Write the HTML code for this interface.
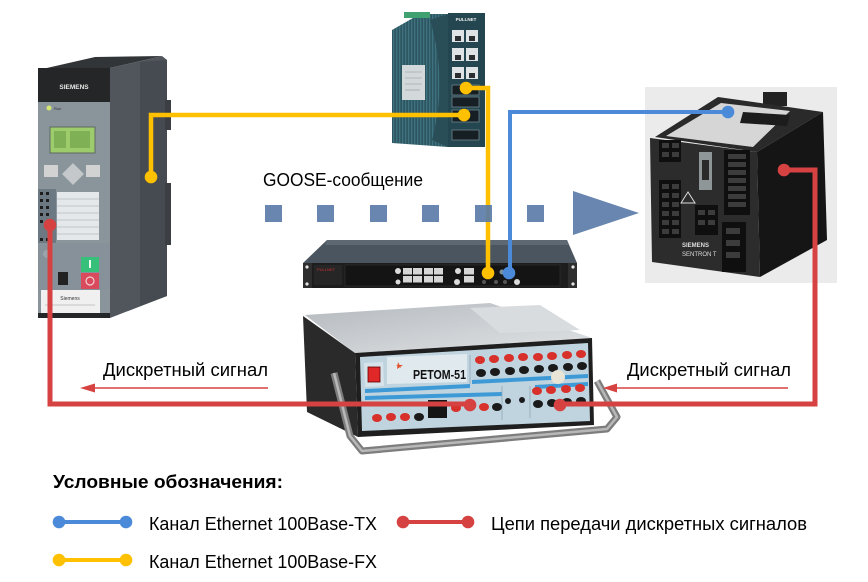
<!DOCTYPE html>
<html><head><meta charset="utf-8"><style>
html,body{margin:0;padding:0;background:#fff;}
svg{display:block;}
text{font-family:"Liberation Sans","DejaVu Sans",sans-serif;}
</style></head><body>
<svg width="868" height="582" viewBox="0 0 868 582" xmlns="http://www.w3.org/2000/svg">
<defs>
<linearGradient id="rtop" x1="0" y1="0" x2="1" y2="1">
<stop offset="0" stop-color="#b4b9be"/><stop offset="0.6" stop-color="#cfd3d6"/><stop offset="1" stop-color="#dfe2e4"/>
</linearGradient>
<linearGradient id="sw" x1="0" y1="0" x2="1" y2="0">
<stop offset="0" stop-color="#2c525c"/><stop offset="0.7" stop-color="#356470"/><stop offset="1" stop-color="#24454d"/>
</linearGradient>
<pattern id="ribs" width="3" height="10" patternUnits="userSpaceOnUse">
<rect width="3" height="10" fill="url(#sw)"/><rect width="1" height="10" fill="#3e7280"/>
</pattern>
</defs>
<rect width="868" height="582" fill="#fff"/>

<!-- ===== Left device (SIPROTEC) ===== -->
<polygon points="38,70 95,57 162,56 110,68" fill="#323538"/>
<polygon points="110,68 162,56 167,60 167,296 110,318" fill="#50565c"/>
<polygon points="140,62 167,60 167,296 140,306" fill="#464b51"/>
<rect x="165" y="100" width="6" height="30" fill="#3b3f44"/>
<rect x="165" y="183" width="6" height="62" fill="#3b3f44"/>
<rect x="38" y="68" width="72" height="250" fill="#8a949b"/>
<rect x="38" y="68" width="72" height="34" fill="#252627"/>
<text x="74" y="89" font-size="6.5" font-weight="bold" fill="#e8e8e8" text-anchor="middle">SIEMENS</text>
<circle cx="49" cy="108" r="2.5" fill="#d4e870"/>
<text x="54" y="110" font-size="4" fill="#333">Run</text>
<rect x="50" y="127" width="45" height="26" fill="#9ccc6c" stroke="#5d6a60" stroke-width="1"/>
<rect x="54" y="131" width="12" height="17" fill="#7fb055"/>
<rect x="70" y="131" width="20" height="17" fill="#7fb055"/>
<rect x="44" y="165" width="14" height="12" fill="#d2d2d2"/>
<polygon points="73,163 84,174 73,185 62,174" fill="#c4c8ca" stroke="#9aa" stroke-width="0.5"/>
<rect x="86" y="165" width="14" height="12" fill="#d2d2d2"/>
<rect x="38" y="189" width="18" height="54" fill="#6d7982"/>
<g fill="#1d1d1d">
<rect x="40" y="192" width="3" height="3"/><rect x="46" y="192" width="3" height="3"/>
<rect x="40" y="199" width="3" height="3"/><rect x="46" y="199" width="3" height="3"/>
<rect x="40" y="206" width="3" height="3"/><rect x="46" y="206" width="3" height="3"/>
<rect x="40" y="213" width="3" height="3"/><rect x="46" y="213" width="3" height="3"/>
<rect x="40" y="220" width="3" height="3"/><rect x="46" y="220" width="3" height="3"/>
<rect x="40" y="238" width="3" height="3"/><rect x="46" y="238" width="3" height="3"/>
</g>
<rect x="57" y="192" width="42" height="48" fill="#e4e8eb"/>
<g stroke="#9aa3a9" stroke-width="0.6">
<line x1="57" y1="199" x2="99" y2="199"/><line x1="57" y1="206" x2="99" y2="206"/>
<line x1="57" y1="213" x2="99" y2="213"/><line x1="57" y1="220" x2="99" y2="220"/>
<line x1="57" y1="227" x2="99" y2="227"/><line x1="57" y1="234" x2="99" y2="234"/>
</g>
<rect x="38" y="243" width="72" height="47" fill="#87919a"/>
<circle cx="47" cy="254" r="4" fill="#9aa4ab"/>
<rect x="81" y="257" width="18" height="15" fill="#36c07a"/>
<rect x="89" y="260" width="2" height="8" fill="#e8fff0"/>
<rect x="81" y="273" width="18" height="16" fill="#d94a5c"/>
<circle cx="90" cy="281" r="4" fill="none" stroke="#f3d0d6" stroke-width="1.2"/>
<rect x="58" y="272" width="10" height="13" fill="#222"/>
<rect x="41" y="290" width="59" height="23" fill="#f0f0f0"/>
<text x="70" y="300" font-size="5" fill="#333" text-anchor="middle">Siemens</text>
<line x1="45" y1="305" x2="95" y2="305" stroke="#999" stroke-width="0.6"/>
<rect x="38" y="313" width="72" height="5" fill="#252627"/>

<!-- ===== Top switch ===== -->
<polygon points="392,30 420,14 448,14 448,147 392,143" fill="url(#ribs)"/>
<path d="M430,20 Q448,80 432,140 L448,147 L448,14 Z" fill="#2a4e57"/>
<rect x="404" y="12" width="26" height="6" fill="#3fa070"/>
<rect x="402" y="65" width="23" height="35" fill="#d3d9da"/>
<g stroke="#8a9597" stroke-width="0.6">
<line x1="405" y1="72" x2="422" y2="72"/><line x1="405" y1="78" x2="422" y2="78"/>
<line x1="405" y1="84" x2="422" y2="84"/><line x1="405" y1="90" x2="420" y2="90"/>
</g>
<rect x="448" y="13" width="37" height="134" fill="#244650"/>
<text x="466" y="21" font-size="4.5" font-weight="bold" fill="#f2f2f2" text-anchor="middle">PULLNET</text>
<g fill="#dfe3e5">
<rect x="452" y="30" width="12" height="12"/><rect x="466" y="30" width="12" height="12"/>
<rect x="452" y="48" width="12" height="13"/><rect x="466" y="48" width="12" height="13"/>
<rect x="452" y="67" width="12" height="12"/><rect x="466" y="67" width="12" height="12"/>
</g>
<g fill="#2b2f31">
<rect x="455" y="36" width="6" height="5"/><rect x="469" y="36" width="6" height="5"/>
<rect x="455" y="55" width="6" height="5"/><rect x="469" y="55" width="6" height="5"/>
<rect x="455" y="73" width="6" height="5"/><rect x="469" y="73" width="6" height="5"/>
</g>
<g fill="#162024" stroke="#6e8288" stroke-width="0.8">
<rect x="452" y="85" width="27" height="10"/>
<rect x="452" y="97" width="27" height="10"/>
<rect x="452" y="110" width="27" height="12"/>
<rect x="452" y="130" width="27" height="10"/>
</g>

<!-- ===== Right device (SENTRON T) ===== -->
<rect x="645" y="87" width="192" height="196" fill="#ebebeb"/>
<rect x="763" y="92" width="24" height="14" fill="#222"/>
<polygon points="655,137 718,97 823,112 757,152" fill="#2a2a2a"/>
<polygon points="666,136 721,103 790,111 753,147" fill="#d6d6d6"/>
<polygon points="743,112 790,115 787,126 740,123" fill="#1c1c1c"/>
<polygon points="757,152 823,112 827,240 760,277" fill="#151515"/>
<polygon points="650,138 757,152 760,277 652,262" fill="#2c2c2c"/>
<g fill="#0f0f0f">
<rect x="659" y="140" width="22" height="22"/>
<rect x="659" y="180" width="22" height="58"/>
<rect x="724" y="150" width="26" height="65"/>
<rect x="722" y="222" width="24" height="50"/>
<rect x="695" y="205" width="23" height="30"/>
</g>
<g fill="#3c3c3c">
<rect x="662" y="143" width="7" height="5"/><rect x="672" y="143" width="7" height="5"/>
<rect x="662" y="152" width="7" height="5"/><rect x="672" y="152" width="7" height="5"/>
<rect x="662" y="184" width="7" height="5"/><rect x="672" y="184" width="7" height="5"/>
<rect x="662" y="193" width="7" height="5"/><rect x="672" y="193" width="7" height="5"/>
<rect x="662" y="202" width="7" height="5"/><rect x="672" y="202" width="7" height="5"/>
<rect x="662" y="211" width="7" height="5"/><rect x="672" y="211" width="7" height="5"/>
<rect x="662" y="220" width="7" height="5"/><rect x="672" y="220" width="7" height="5"/>
<rect x="662" y="229" width="7" height="5"/><rect x="672" y="229" width="7" height="5"/>
<rect x="728" y="154" width="18" height="5"/><rect x="728" y="162" width="18" height="5"/>
<rect x="728" y="170" width="18" height="5"/><rect x="728" y="178" width="18" height="5"/>
<rect x="728" y="186" width="18" height="5"/><rect x="728" y="194" width="18" height="5"/>
<rect x="728" y="202" width="18" height="5"/>
<rect x="726" y="228" width="14" height="6"/><rect x="726" y="240" width="14" height="6"/>
<rect x="726" y="252" width="14" height="6"/>
<rect x="698" y="210" width="7" height="5"/><rect x="708" y="210" width="7" height="5"/>
<rect x="698" y="220" width="7" height="5"/><rect x="708" y="220" width="7" height="5"/>
</g>
<rect x="699" y="152" width="13" height="38" fill="#8f9698"/>
<rect x="702" y="160" width="7" height="20" fill="#2a2a2a"/>
<polygon points="688,192 695,203 681,203" fill="none" stroke="#ddd" stroke-width="1"/>
<text x="682" y="247" font-size="6" font-weight="bold" fill="#ddd">SIEMENS</text>
<text x="682" y="256" font-size="6" fill="#ddd">SENTRON T</text>

<!-- ===== Rack switch ===== -->
<polygon points="327,240 567,240 577,263 303,263" fill="#4a5560"/>
<polygon points="327,240 567,240 569,245 325,245" fill="#5d6873"/>
<rect x="303" y="263" width="274" height="25" fill="#1d1d1d"/>
<rect x="303" y="263" width="9" height="25" fill="#2e2e2e"/>
<rect x="568" y="263" width="9" height="25" fill="#2e2e2e"/>
<g fill="#e6e6e6">
<circle cx="307" cy="267" r="1.6"/><circle cx="307" cy="284" r="1.6"/>
<circle cx="573" cy="267" r="1.6"/><circle cx="573" cy="284" r="1.6"/>
</g>
<rect x="314" y="265" width="28" height="20" fill="#262626"/>
<text x="317" y="271" font-size="4" fill="#c33">PULLNET</text>
<rect x="345" y="265" width="215" height="21" fill="#141414" stroke="#333" stroke-width="0.6"/>
<g fill="#d6d6d6">
<rect x="403" y="268" width="9" height="6.5"/><rect x="413" y="268" width="9" height="6.5"/>
<rect x="424" y="268" width="9" height="6.5"/><rect x="434" y="268" width="9" height="6.5"/>
<rect x="403" y="276" width="9" height="6.5"/><rect x="413" y="276" width="9" height="6.5"/>
<rect x="424" y="276" width="9" height="6.5"/><rect x="434" y="276" width="9" height="6.5"/>
<rect x="464" y="268" width="10" height="6.5"/><rect x="464" y="276" width="10" height="6.5"/>
</g>
<g fill="#dcdcdc">
<circle cx="398" cy="271" r="3"/><circle cx="398" cy="282" r="2.5"/>
<circle cx="458" cy="271" r="3"/><circle cx="457" cy="282" r="3"/>
<circle cx="517" cy="282" r="3"/>
</g>
<circle cx="502" cy="272" r="2.5" fill="#7a8f9c"/>
<g fill="#555"><circle cx="484" cy="282" r="2"/><circle cx="496" cy="282" r="2"/><circle cx="505" cy="282" r="2"/></g>

<!-- ===== RETOM-51 ===== -->
<polygon points="305,315 490,303 592,338 355,353" fill="url(#rtop)"/>
<polygon points="470,308 540,305 580,330 500,333" fill="#d9dcdf"/>
<polygon points="303,316 355,353 358,437 307,412" fill="#2a2a2a"/>
<polygon points="355,353 592,338 594,425 358,437" fill="#1f1f1f"/>
<polygon points="360,357 588,343 590,421 362,431" fill="#bfd4df"/>
<polygon points="364,363 383,362 384,386 365,387" fill="#d6e3ea"/>
<rect x="368" y="367" width="12" height="15" fill="#e02828" stroke="#600" stroke-width="0.8"/>
<polygon points="387,357 467,354 467,382 387,384" fill="#dfe9ee"/>
<polygon points="398,362 401,368 396,365 403,365 397,369" fill="#e0502a"/>
<text x="413" y="379" font-size="13" font-weight="bold" fill="#111" textLength="53" lengthAdjust="spacingAndGlyphs">РЕТОМ-51</text>
<polygon points="365,389 470,384 470,388 365,393" fill="#3e9ad6"/>
<polygon points="365,396 502,392 502,396 365,400" fill="#3e9ad6"/>
<polygon points="472,380 588,374 588,378 472,384" fill="#3e9ad6"/>
<polygon points="535,385 588,382 588,386 535,389" fill="#3e9ad6"/>
<line x1="470" y1="355" x2="470" y2="384" stroke="#8fa9b6" stroke-width="0.8"/>
<line x1="502" y1="386" x2="502" y2="420" stroke="#8fa9b6" stroke-width="0.8"/>
<line x1="530" y1="386" x2="530" y2="418" stroke="#8fa9b6" stroke-width="0.8"/>
<g fill="#d8302a">
<ellipse cx="480" cy="360" rx="5" ry="4"/><ellipse cx="494" cy="359" rx="5" ry="4"/>
<ellipse cx="509" cy="358" rx="5" ry="4"/><ellipse cx="523" cy="357" rx="5" ry="4"/>
<ellipse cx="538" cy="357" rx="5" ry="4"/><ellipse cx="552" cy="356" rx="5" ry="4"/>
<ellipse cx="567" cy="355" rx="5" ry="4"/><ellipse cx="581" cy="354" rx="5" ry="4"/>
<ellipse cx="537" cy="391" rx="5" ry="4"/><ellipse cx="551" cy="390" rx="5" ry="4"/>
<ellipse cx="566" cy="389" rx="5" ry="4"/><ellipse cx="580" cy="388" rx="5" ry="4"/>
<ellipse cx="377" cy="418" rx="5" ry="4"/><ellipse cx="391" cy="417" rx="5" ry="4"/>
<ellipse cx="405" cy="417" rx="5" ry="4"/>
<ellipse cx="456" cy="408" rx="5" ry="4"/><ellipse cx="484" cy="407" rx="5" ry="4"/>
</g>
<g fill="#1a1a1a">
<ellipse cx="481" cy="373" rx="5" ry="4"/><ellipse cx="495" cy="372" rx="5" ry="4"/>
<ellipse cx="510" cy="371" rx="5" ry="4"/><ellipse cx="524" cy="370" rx="5" ry="4"/>
<ellipse cx="539" cy="369" rx="5" ry="4"/><ellipse cx="553" cy="368" rx="5" ry="4"/>
<ellipse cx="568" cy="367" rx="5" ry="4"/><ellipse cx="582" cy="366" rx="5" ry="4"/>
<ellipse cx="538" cy="404" rx="5" ry="4"/><ellipse cx="552" cy="403" rx="5" ry="4"/>
<ellipse cx="567" cy="402" rx="5" ry="4"/><ellipse cx="581" cy="401" rx="5" ry="4"/>
<ellipse cx="419" cy="417" rx="5" ry="4"/><ellipse cx="497" cy="407" rx="5" ry="4"/>
<circle cx="508" cy="401" r="3"/><circle cx="522" cy="400" r="3"/>
</g>
<rect x="428" y="400" width="19" height="18" fill="#151515"/>
<circle cx="558" cy="377" r="7" fill="#e8e4d6"/>
<polyline points="334,373 350,436 362,451 607,429 617,417 597,381" fill="none" stroke="#7d7d7d" stroke-width="7" stroke-linejoin="round"/>
<polyline points="334,373 350,436 362,451 607,429 617,417 597,381" fill="none" stroke="#b8b8b8" stroke-width="2.5" stroke-linejoin="round"/>

<!-- ===== Connection lines ===== -->
<g fill="none" stroke-linejoin="miter">
<path d="M151,177 V115 H464" stroke="#FFC000" stroke-width="4.5"/>
<path d="M466,88 H488 V273" stroke="#FFC000" stroke-width="4.5"/>
<path d="M728,112 H510 V273" stroke="#4A8AD9" stroke-width="4"/>
<path d="M50,225 V404 H470" stroke="#D64242" stroke-width="5"/>
<path d="M784,170 H815 V404 H560" stroke="#D64242" stroke-width="5"/>
</g>
<g>
<circle cx="151" cy="177" r="6.3" fill="#FFC000"/>
<circle cx="464" cy="115" r="6.3" fill="#FFC000"/>
<circle cx="466" cy="88" r="6.3" fill="#FFC000"/>
<circle cx="488" cy="273" r="6.3" fill="#FFC000"/>
<circle cx="728" cy="112" r="6.3" fill="#4A8AD9"/>
<circle cx="509" cy="273" r="6.3" fill="#4A8AD9"/>
<circle cx="50" cy="225" r="6.3" fill="#D64242"/>
<circle cx="470" cy="405" r="6.3" fill="#D64242"/>
<circle cx="784" cy="170" r="6.3" fill="#D64242"/>
<circle cx="560" cy="405" r="6.3" fill="#D64242"/>
</g>

<!-- ===== GOOSE arrow ===== -->
<g fill="#5B7CA8" fill-opacity="0.92">
<rect x="265" y="205" width="17" height="17"/>
<rect x="317" y="205" width="17" height="17"/>
<rect x="370" y="205" width="17" height="17"/>
<rect x="422" y="205" width="17" height="17"/>
<rect x="475" y="205" width="17" height="17"/>
<rect x="527" y="205" width="17" height="17"/>
<polygon points="573,191 639,213 573,235"/>
</g>
<text x="263" y="186" font-size="18" fill="#000" textLength="160" lengthAdjust="spacingAndGlyphs">GOOSE-сообщение</text>

<!-- ===== Discrete signal labels ===== -->
<text x="103" y="376" font-size="18.5" fill="#000" textLength="165" lengthAdjust="spacingAndGlyphs">Дискретный сигнал</text>
<line x1="92" y1="388" x2="268" y2="388" stroke="#D64242" stroke-width="1.5"/>
<polygon points="80,388 95,383.5 95,392.5" fill="#D64242"/>
<text x="627" y="376" font-size="18.5" fill="#000" textLength="164" lengthAdjust="spacingAndGlyphs">Дискретный сигнал</text>
<line x1="615" y1="388" x2="788" y2="388" stroke="#D64242" stroke-width="1.5"/>
<polygon points="603,388 617,383.5 617,392.5" fill="#D64242"/>

<!-- ===== Legend ===== -->
<text x="53" y="488" font-size="18" font-weight="bold" fill="#000" textLength="230" lengthAdjust="spacingAndGlyphs">Условные обозначения:</text>
<line x1="59" y1="522" x2="126" y2="522" stroke="#4A8AD9" stroke-width="4"/>
<circle cx="59" cy="522" r="6.3" fill="#4A8AD9"/><circle cx="126" cy="522" r="6.3" fill="#4A8AD9"/>
<text x="149" y="530" font-size="18.5" fill="#000" textLength="228" lengthAdjust="spacingAndGlyphs">Канал Ethernet 100Base-TX</text>
<line x1="403" y1="522" x2="468" y2="522" stroke="#D64242" stroke-width="4"/>
<circle cx="403" cy="522" r="6.3" fill="#D64242"/><circle cx="468" cy="522" r="6.3" fill="#D64242"/>
<text x="491" y="530" font-size="18.5" fill="#000" textLength="316" lengthAdjust="spacingAndGlyphs">Цепи передачи дискретных сигналов</text>
<line x1="59" y1="560" x2="126" y2="560" stroke="#FFC000" stroke-width="4"/>
<circle cx="59" cy="560" r="6.3" fill="#FFC000"/><circle cx="126" cy="560" r="6.3" fill="#FFC000"/>
<text x="149" y="568" font-size="18.5" fill="#000" textLength="228" lengthAdjust="spacingAndGlyphs">Канал Ethernet 100Base-FX</text>
</svg>
</body></html>
